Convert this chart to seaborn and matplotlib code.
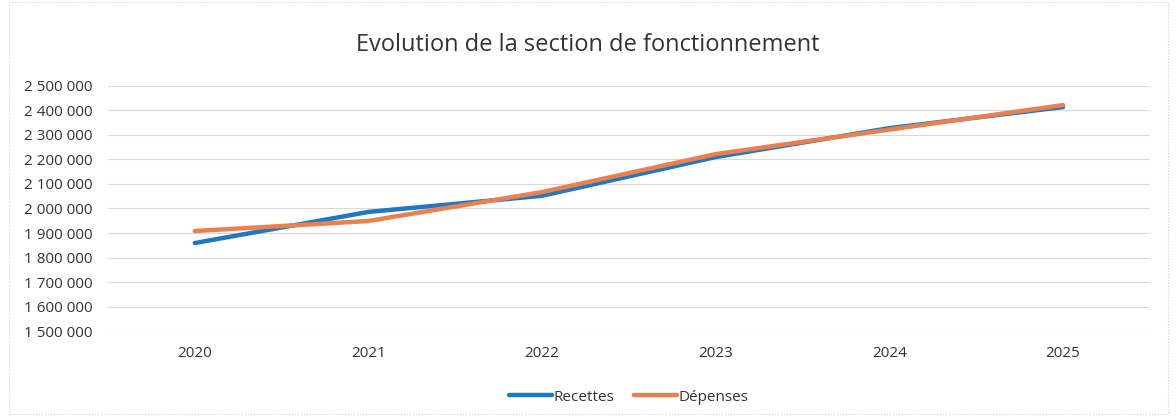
import pandas as pd
import seaborn as sns
import matplotlib.pyplot as plt
from matplotlib.patches import Rectangle
from matplotlib.ticker import FuncFormatter

# Values
annees = ["2020", "2021", "2022", "2023", "2024", "2025"]
recettes = [1859000, 1986000, 2052000, 2210000, 2328000, 2414000]
depenses = [1908000, 1949000, 2067000, 2222000, 2322000, 2422000]

df = pd.DataFrame({
    "annee": annees * 2,
    "montant": recettes + depenses,
    "serie": ["Recettes"] * len(annees) + ["Dépenses"] * len(annees),
})

sns.set_theme(style="white")
plt.rcParams["font.family"] = ["Open Sans", "DejaVu Sans"]

fig = plt.figure(figsize=(11.76, 4.16), dpi=100)
ax = fig.add_axes([0.0918, 0.2043, 0.886, 0.589])

palette = {"Recettes": "#1f78c1", "Dépenses": "#e9804f"}
sns.lineplot(data=df, x="annee", y="montant", hue="serie", palette=palette,
             linewidth=3.2, ax=ax, sort=False)

ax.set_xlim(-0.5, 5.5)
ax.set_ylim(1500000, 2500000)
ax.set_yticks(range(1500000, 2500001, 100000))
ax.yaxis.set_major_formatter(FuncFormatter(lambda v, p: f"{int(v):,}".replace(",", " ")))
ax.grid(axis="y", color="#d9d9d9", linewidth=0.8)
ax.set_axisbelow(True)
for s in ax.spines.values():
    s.set_visible(False)
ax.tick_params(axis="both", length=0, labelsize=11, colors="#333333")
ax.tick_params(axis="y", pad=11)
ax.tick_params(axis="x", pad=11)
ax.set_xlabel("")
ax.set_ylabel("")

fig.text(0.5, 0.892, "Evolution de la section de fonctionnement",
         ha="center", va="center", fontsize=17, color="#333333")

handles, labels = ax.get_legend_handles_labels()
ax.legend(handles, labels, loc="center", bbox_to_anchor=(0.5, -0.27),
          ncol=2, frameon=False, fontsize=11, labelcolor="#333333",
          handlelength=2.8, handletextpad=0.1, columnspacing=1.3)

fig.patches.append(Rectangle((0.008, 0.005), 0.985, 0.99, transform=fig.transFigure,
                             fill=False, edgecolor="#d0d0d0", linewidth=0.8,
                             linestyle=":"))

fig.savefig("out.png", dpi=100)
